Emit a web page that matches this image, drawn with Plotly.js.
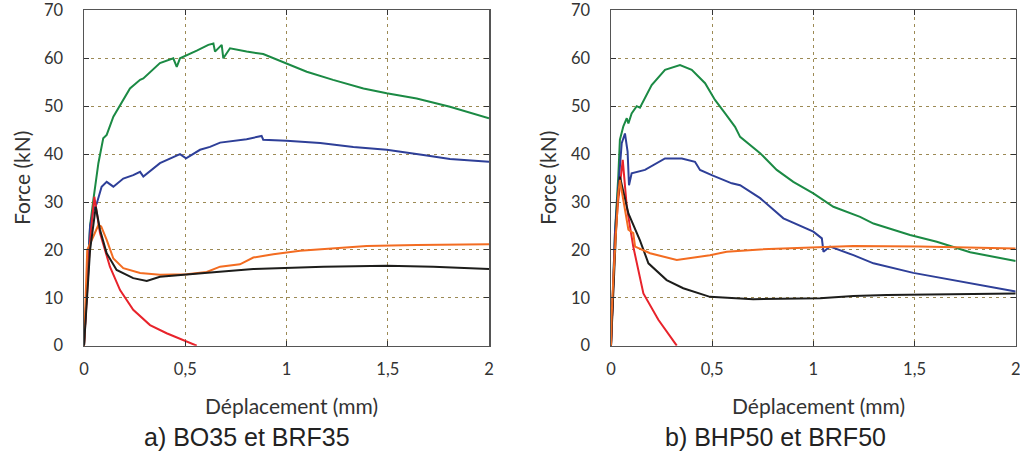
<!DOCTYPE html>
<html>
<head>
<meta charset="utf-8">
<script src="https://cdn.plot.ly/plotly-3.0.1.min.js"></script>
<style>html,body{margin:0;padding:0;background:#fff}#chart{width:1020px;height:455px}</style>
</head>
<body>
<div id="chart"></div>
<script>
// ---- Panel a) BO35 et BRF35 ----
const aGreenX = [0,0.01,0.02,0.03,0.046,0.071,0.095,0.112,0.145,0.178,0.227,0.277,0.293,0.375,0.441,0.458,0.474,0.557,0.614,0.639,0.647,0.68,0.688,0.721,0.803,0.885,1.0,1.1,1.23,1.38,1.495,1.643,1.807,2.0];
const aGreenY = [0,9,18,25,30.4,38.1,43.3,44,47.8,50.3,53.7,55.5,55.8,59,60,58.2,60,61.6,62.8,63.1,61.4,62.8,60,62.1,61.4,60.9,59,57.2,55.5,53.7,52.7,51.6,49.9,47.5];
const aBlueX = [0,0.01,0.02,0.03,0.045,0.063,0.087,0.112,0.145,0.194,0.243,0.277,0.293,0.375,0.474,0.504,0.573,0.622,0.672,0.803,0.877,0.885,1.0,1.166,1.33,1.495,1.676,1.807,2.0];
const aBlueY = [0,9,18,25,28,29.7,33.2,34.2,33.2,34.9,35.6,36.3,35.3,38.1,40,39.1,40.9,41.5,42.4,43.1,43.8,43.0,42.8,42.3,41.5,40.9,39.8,39,38.4];
const aRedX = [0,0.015,0.03,0.051,0.079,0.128,0.178,0.243,0.326,0.408,0.474,0.557];
const aRedY = [0,12,22,31.1,23.5,16.5,11.6,7.5,4.3,2.6,1.4,0];
const aBlackX = [0,0.015,0.03,0.058,0.079,0.112,0.161,0.243,0.31,0.375,0.507,0.655,0.836,1.0,1.182,1.495,1.725,2.0];
const aBlackY = [0,11,20,29,24.2,19.3,15.8,14.1,13.5,14.4,14.8,15.4,16.0,16.3,16.5,16.7,16.5,16.0];
const aOrangeX = [0,0.005,0.016,0.046,0.071,0.085,0.112,0.145,0.194,0.277,0.375,0.507,0.606,0.672,0.77,0.836,0.935,1.067,1.23,1.396,1.643,2.0];
const aOrangeY = [0,8,20,22.8,25.2,24.9,22.1,18.2,16.2,15.2,14.8,14.9,15.4,16.5,17,18.4,19.1,19.8,20.3,20.8,21.0,21.2];

// ---- Panel b) BHP50 et BRF50 ----
const bGreenX = [0,0.01,0.02,0.036,0.044,0.061,0.078,0.086,0.102,0.127,0.143,0.201,0.267,0.341,0.399,0.465,0.514,0.564,0.613,0.638,0.737,0.819,0.901,1.0,1.099,1.231,1.297,1.478,1.61,1.775,2.0];
const bGreenY = [0,12,24,35.3,43,45.8,47.5,46.4,48.5,50.0,49.7,54.4,57.6,58.6,57.6,54.8,51.3,48.5,45.7,43.6,40.2,36.7,34.2,31.8,29,26.9,25.5,23.1,21.7,19.5,17.7];
const bBlueX = [0,0.01,0.02,0.036,0.053,0.069,0.082,0.089,0.102,0.168,0.267,0.35,0.415,0.44,0.498,0.597,0.638,0.737,0.852,1.0,1.042,1.05,1.083,1.198,1.297,1.494,1.692,1.857,2.0];
const bBlueY = [0,12,24,33,42.3,44.3,40.5,33.5,36,36.7,39.1,39.1,38.4,36.7,35.6,33.9,33.5,30.8,26.6,23.8,22.4,19.6,20.7,18.9,17.2,15.2,13.7,12.3,11.3];
const bRedX = [0,0.01,0.02,0.035,0.058,0.078,0.11,0.16,0.234,0.325];
const bRedY = [0,12,22,30,38.8,29,20.7,10.9,5.4,0];
const bBlackX = [0,0.01,0.02,0.03,0.044,0.086,0.143,0.185,0.275,0.357,0.489,0.703,1.033,1.198,1.363,1.692,2.0];
const bBlackY = [0,11,21,29,35.3,27.6,22,17.2,13.7,12,10.2,9.7,9.9,10.4,10.6,10.8,10.9];
const bOrangeX = [0,0.003,0.011,0.02,0.036,0.044,0.061,0.086,0.11,0.119,0.193,0.325,0.489,0.572,0.737,1.0,1.198,1.527,2.0];
const bOrangeY = [0,6,13.7,20,31.8,34.6,30.4,24.2,23.5,20.7,19.3,17.9,18.9,19.6,20.1,20.5,20.8,20.7,20.3];

const xTickVals = [0,0.5,1,1.5,2];
const yTickVals = [0,10,20,30,40,50,60,70];
const captions = ["a) BO35 et BRF35","b) BHP50 et BRF50"];
const xTitle = "Déplacement (mm)";
const yTitle = "Force (kN)";

const colors = {green:'#1b8a44', blue:'#2e3f98', red:'#e8232b', black:'#1d1d1b', orange:'#f36c21'};

function tr(x,y,c,xa,ya){
  return {x:x,y:y,type:'scatter',mode:'lines',line:{color:c,width:2},xaxis:xa,yaxis:ya,showlegend:false,hoverinfo:'skip'};
}
const data = [
  tr(aGreenX,aGreenY,colors.green,'x','y'),
  tr(aBlueX,aBlueY,colors.blue,'x','y'),
  tr(aRedX,aRedY,colors.red,'x','y'),
  tr(aOrangeX,aOrangeY,colors.orange,'x','y'),
  tr(aBlackX,aBlackY,colors.black,'x','y'),
  tr(bGreenX,bGreenY,colors.green,'x2','y2'),
  tr(bBlueX,bBlueY,colors.blue,'x2','y2'),
  tr(bRedX,bRedY,colors.red,'x2','y2'),
  tr(bBlackX,bBlackY,colors.black,'x2','y2'),
  tr(bOrangeX,bOrangeY,colors.orange,'x2','y2')
];

const fam = 'Lato, "Open Sans", sans-serif';
const tickFont = {family:fam, size:16.5, color:'#333'};
function xax(dom, anchor){
  return {domain:dom, anchor:anchor, range:[0,2], tickvals:xTickVals, showgrid:true,
    gridcolor:'#9c8a55', griddash:'3px,4px', gridwidth:1, zeroline:false,
    showline:true, linecolor:'#555', linewidth:1.5, mirror:'ticks',
    ticks:'inside', ticklen:5, tickcolor:'#333', tickfont:tickFont, ticklabelstandoff:8,
    ticklabeloverflow:'allow', fixedrange:true};
}
function yax(dom, anchor){
  return {domain:dom, anchor:anchor, range:[0,70], tickvals:yTickVals, showgrid:true,
    gridcolor:'#9c8a55', griddash:'3px,4px', gridwidth:1, zeroline:false,
    showline:true, linecolor:'#555', linewidth:1.5, mirror:'ticks',
    ticks:'inside', ticklen:5, tickcolor:'#333', tickfont:tickFont, ticklabelstandoff:16,
    ticklabeloverflow:'allow', fixedrange:true};
}
const yDom = [1-345.7/455, 1-10.4/455];
const titleFont = {family:fam, size:21, color:'#333'};
const capFont = {family:'"Liberation Sans", Arial, sans-serif', size:25, color:'#222'};
const layout = {
  width:1020, height:455, margin:{l:0,r:0,t:0,b:0}, paper_bgcolor:'#fff', plot_bgcolor:'#fff',
  separators:', ',
  xaxis: xax([84/1020, 489/1020],'y'),
  yaxis: yax(yDom,'x'),
  xaxis2: xax([611/1020, 1015.7/1020],'y2'),
  yaxis2: yax(yDom,'x2'),
  annotations:[
    {text:xTitle, xref:'paper', yref:'paper', x:291/1020, y:1-405/455, showarrow:false, xanchor:'center', yanchor:'middle', font:titleFont},
    {text:xTitle, xref:'paper', yref:'paper', x:818/1020, y:1-405/455, showarrow:false, xanchor:'center', yanchor:'middle', font:titleFont},
    {text:yTitle, xref:'paper', yref:'paper', x:22/1020, y:1-178/455, showarrow:false, textangle:-90, xanchor:'center', yanchor:'middle', font:titleFont},
    {text:yTitle, xref:'paper', yref:'paper', x:548/1020, y:1-178/455, showarrow:false, textangle:-90, xanchor:'center', yanchor:'middle', font:titleFont},
    {text:captions[0], xref:'paper', yref:'paper', x:247/1020, y:1-437/455, showarrow:false, xanchor:'center', yanchor:'middle', font:capFont},
    {text:captions[1], xref:'paper', yref:'paper', x:775/1020, y:1-437/455, showarrow:false, xanchor:'center', yanchor:'middle', font:capFont}
  ]
};
Plotly.newPlot('chart', data, layout, {staticPlot:true, displayModeBar:false});
</script>
</body>
</html>
